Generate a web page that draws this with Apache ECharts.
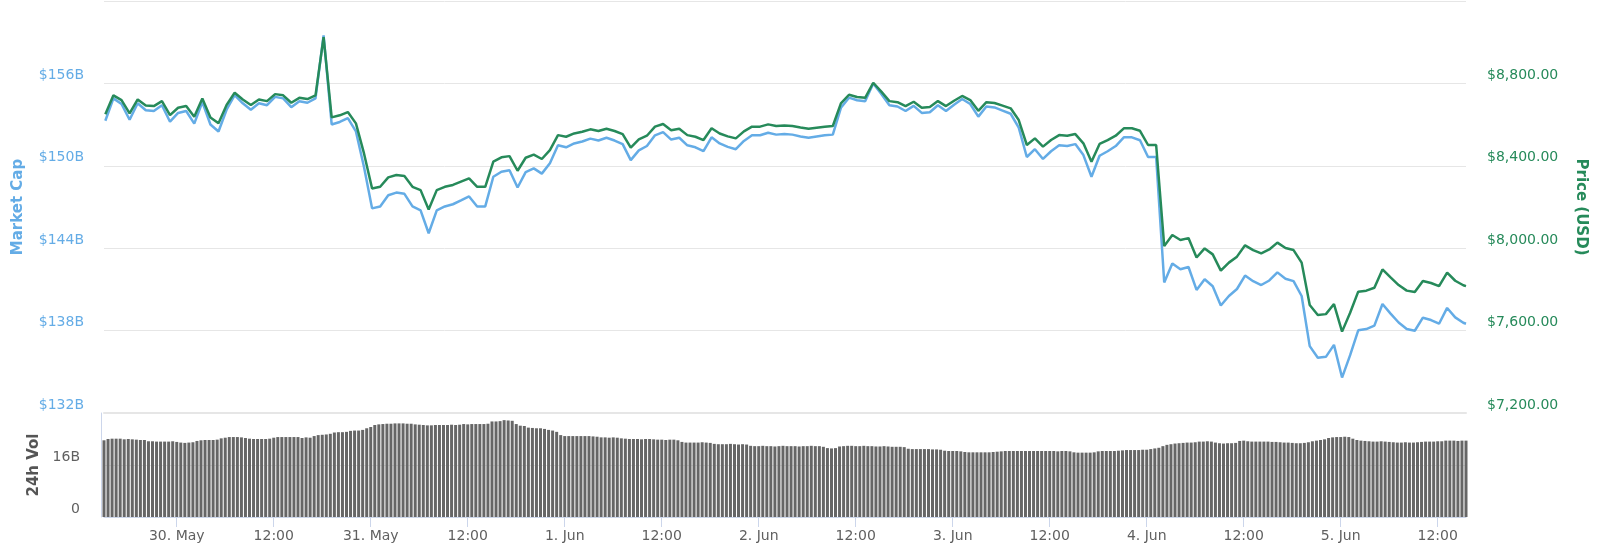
<!DOCTYPE html>
<html><head><meta charset="utf-8">
<script src="https://cdn.jsdelivr.net/npm/echarts@6/dist/echarts.min.js"></script>
<style>html,body{margin:0;padding:0;background:#fff}#c{width:1600px;height:550px}</style>
</head><body><div id="c"></div><script>
// ---- data ----
// hourly samples starting 29 May 2019 15:10 (last sample is the right edge reading)
const LINE_START = new Date(2019, 4, 29, 15, 10).getTime();
const PRICE = [
8650,8742,8719,8654,8722,8693,8690,8714,8646,8682,
8690,8638,8727,8635,8606,8695,8755,8722,8695,8722,
8714,8748,8742,8706,8730,8724,8742,9025,8635,8645,
8661,8606,8460,8290,8298,8344,8355,8350,8298,8282,
8188,8282,8298,8307,8323,8339,8298,8298,8420,8441,
8447,8376,8439,8454,8433,8476,8549,8541,8557,8565,
8577,8569,8580,8569,8554,8488,8528,8546,8590,8603,
8573,8580,8549,8541,8525,8582,8557,8543,8533,8567,
8590,8590,8601,8593,8596,8593,8586,8580,8585,8590,
8593,8703,8745,8734,8730,8803,8760,8714,8709,8690,
8711,8682,8685,8714,8690,8716,8739,8719,8667,8709,
8705,8692,8679,8622,8501,8533,8493,8525,8549,8546,
8554,8509,8420,8506,8525,8546,8582,8582,8570,8501,
8501,8010,8064,8040,8049,7955,7999,7970,7891,7930,
7959,8014,7991,7975,7994,8027,8001,7991,7930,7724,
7676,7680,7729,7595,7687,7789,7794,7808,7897,7858,
7821,7794,7787,7841,7831,7816,7881,7842,7820,7816
];
const MARKET_CAP = [
153.28,154.91,154.50,153.35,154.55,154.04,153.99,154.41,153.21,153.85,
153.99,153.07,154.64,153.01,152.50,154.08,155.14,154.55,154.08,154.55,
154.41,155.02,154.91,154.27,154.70,154.59,154.91,159.50,153.01,153.19,
153.47,152.50,149.91,146.90,147.04,147.86,148.05,147.96,147.04,146.76,
145.09,146.76,147.04,147.20,147.48,147.77,147.04,147.04,149.20,149.57,
149.68,148.42,149.54,149.81,149.43,150.19,151.49,151.35,151.63,151.77,
151.98,151.84,152.04,151.84,151.58,150.41,151.12,151.44,152.22,152.45,
151.91,152.04,151.49,151.35,151.06,152.07,151.63,151.38,151.21,151.81,
152.22,152.22,152.41,152.27,152.32,152.27,152.14,152.04,152.13,152.22,
152.27,154.22,154.96,154.77,154.70,155.99,155.23,154.41,154.32,153.99,
154.36,153.85,153.90,154.41,153.99,154.45,154.86,154.50,153.58,154.32,
154.25,154.02,153.79,152.78,150.64,151.21,150.50,151.06,151.49,151.44,
151.58,150.78,149.20,150.73,151.06,151.44,152.07,152.07,151.86,150.64,
150.64,141.50,142.89,142.47,142.63,140.96,141.74,141.23,139.83,140.52,
141.03,142.01,141.60,141.32,141.65,142.24,141.78,141.60,140.52,136.87,
136.02,136.09,136.96,134.58,136.21,138.02,138.11,138.36,139.94,139.24,
138.59,138.11,137.99,138.94,138.77,138.50,139.65,138.96,138.57,138.50
];
// 24h volume (billions), one bar per 30-minute slot from 29 May 15:00 to 5 Jun 15:30
const SLOT_START = new Date(2019, 4, 29, 15, 0).getTime();
const VOLUME = [
23.6,24.0,24.1,24.1,24.1,23.9,24.0, 23.9,23.8,23.7,23.7,
23.3,23.3,23.2,23.2,23.2,23.2,23.3, 23.1,22.9,22.8,22.9,23.0,
23.4,23.6,23.7,23.7,23.7,23.8, 24.2,24.4,24.6,24.6,24.6,24.5,24.3,
24.1,24.0,24.0,24.0,24.0,24.1, 24.4,24.6,24.6,24.6,24.6,24.6,24.6,24.3,24.5,24.4,
24.9,25.2,25.3,25.4,25.6, 26.0,26.1,26.1,26.2, 26.5,26.6,26.6,26.8, 27.3,27.7,
28.3,28.5,28.6,28.7,28.7, 28.8,28.8,28.8,28.7,28.7,
28.5,28.4,28.3,28.2,28.2,28.3,28.3,28.3,28.3,28.4,28.3,28.4,
28.6,28.5,28.6,28.6,28.6,28.6,28.7, 29.4,29.4,29.5,29.8,29.7,29.6,
28.6,28.1,28.0, 27.5,27.4,27.3,27.3,27.1, 26.8,26.6,26.2,
25.2,24.9,24.9,24.9,24.9,24.9,24.9,24.9,24.8,24.7, 24.5,24.5,24.4,24.5,24.4,
24.2,24.1,24.0,24.0,24.0,23.9,24.0,24.0, 23.9,23.8,23.8,23.7,23.8,23.8,23.6,
23.1,22.9,22.9,22.9,22.9,23.0,22.9,22.8, 22.5,22.4,22.4,22.4,22.5,22.4,22.3,22.4,22.3,
21.9,21.8,21.8,21.9,21.8,21.8,21.7,21.8,21.9,21.8,21.8,21.8,21.7,21.8,21.8,21.9,21.8,21.8,21.6,
21.2,21.1,21.2, 21.7,21.8,21.9,21.9,21.8,21.8,21.9,21.8,21.8,
21.7,21.7,21.8,21.7,21.6,21.6,21.6,21.5, 21.0,20.9,20.9,20.9,20.9,20.9,20.8,20.8,20.7,
20.4,20.3,20.3,20.3,20.2, 20.0,19.9,19.9,19.9,19.9,19.9,19.9,20.0,
20.1,20.2,20.3,20.3,20.3,20.3,20.3,20.3,20.3,20.3,20.3,20.3,20.3,20.3,20.3,20.2,20.3,20.3,20.2,
19.9,19.8,19.8,19.8,19.8,19.9, 20.2,20.3,20.3,20.3,20.3,20.4, 20.5,20.6,20.6,20.6,20.6,20.7,20.7,
20.9,21.1,21.3, 21.8,22.2,22.4, 22.6,22.7,22.8, 22.9,22.9,23.0, 23.2,23.2,23.3,23.2,
22.9,22.7,22.6,22.7,22.7,22.8, 23.4,23.5,23.3, 23.2,23.2,23.2,23.2,23.2,23.1,23.1,
23.0,22.9,22.9,22.8,22.7,22.7, 22.8,23.0, 23.3,23.5,23.7,23.9, 24.3,24.5,24.6,24.6,24.7,24.6,
24.1,23.7,23.5,23.4, 23.3,23.2,23.2,23.3,23.2,23.1, 23.0,22.9,22.9,23.0,22.9,22.9,23.0,
23.1,23.2,23.2,23.2,23.3,23.3, 23.5,23.5,23.5,23.4,23.5, 23.5
];
const MONTHS = ['Jan','Feb','Mar','Apr','May','Jun','Jul','Aug','Sep','Oct','Nov','Dec'];

// ---- derived ----
const HALF_HOUR = 30 * 60000, HOUR = 60 * 60000;
const AXIS_END = SLOT_START + (VOLUME.length - 1) * HALF_HOUR;
const pad = n => (n < 10 ? '0' : '') + n;
const SLOTS = VOLUME.map((_, i) => {
  const d = new Date(SLOT_START + i * HALF_HOUR);
  return d.getFullYear() + '-' + pad(d.getMonth() + 1) + '-' + pad(d.getDate()) + ' ' + pad(d.getHours()) + ':' + pad(d.getMinutes());
});
const lineTime = i => Math.min(LINE_START + i * HOUR, AXIS_END);
const priceData = PRICE.map((v, i) => [lineTime(i), v]);
const mcapData = MARKET_CAP.map((v, i) => [lineTime(i), v]);
const isMajor = (idx, val) => val.slice(11) === '00:00' || val.slice(11) === '12:00';
const fmtSlot = val => {
  const t = val.slice(11);
  if (t === '00:00') return (+val.slice(8, 10)) + '. ' + MONTHS[+val.slice(5, 7) - 1];
  return t;
};
const fmtPrice = v => '$' + v.toLocaleString('en-US', {minimumFractionDigits: 2, maximumFractionDigits: 2});

const FONT = 'DejaVu Sans';
const BLUE = '#64ace6', GREEN = '#268a5a', GRID = '#e6e6e6', AX = '#ccd6eb';

const chart = echarts.init(document.getElementById('c'), null, {renderer: 'canvas'});
chart.setOption({
  animation: false,
  grid: [
    {left: 104, right: 134, top: 1, height: 412},
    {left: 104, right: 134, top: 413, height: 104}
  ],
  xAxis: [
    {gridIndex: 0, type: 'time', min: SLOT_START, max: AXIS_END,
     axisLine: {show: true, onZero: false, lineStyle: {color: GRID, width: 2}},
     axisTick: {show: false}, axisLabel: {show: false}, splitLine: {show: false}},
    {gridIndex: 1, type: 'category', data: SLOTS, boundaryGap: false,
     axisLine: {onZero: false, lineStyle: {color: AX}},
     axisTick: {show: true, length: 10, interval: isMajor, lineStyle: {color: AX}},
     axisLabel: {interval: isMajor, formatter: fmtSlot, color: '#606060', fontSize: 14, fontFamily: FONT, margin: 12},
     splitLine: {show: false}}
  ],
  yAxis: [
    {gridIndex: 0, type: 'value', position: 'left', min: 132, max: 162, interval: 6,
     axisLine: {show: false}, axisTick: {show: false},
     splitLine: {lineStyle: {color: GRID}},
     axisLabel: {formatter: v => '$' + v + 'B', color: BLUE, fontSize: 14, fontFamily: FONT, margin: 20,
                 showMaxLabel: false, verticalAlign: 'bottom', lineHeight: 16},
     name: 'Market Cap', nameLocation: 'middle', nameGap: 78,
     nameTextStyle: {color: BLUE, fontSize: 15, fontWeight: 'bold', fontFamily: FONT}},
    {gridIndex: 0, type: 'value', position: 'right', min: 7200, max: 9200, interval: 400,
     axisLine: {show: false}, axisTick: {show: false}, splitLine: {show: false},
     axisLabel: {formatter: fmtPrice, color: GREEN, fontSize: 14, fontFamily: FONT, margin: 21,
                 showMaxLabel: false, verticalAlign: 'bottom', lineHeight: 16},
     name: 'Price (USD)', nameLocation: 'middle', nameGap: 107, nameRotate: -90,
     nameTextStyle: {color: GREEN, fontSize: 15, fontWeight: 'bold', fontFamily: FONT}},
    {gridIndex: 1, type: 'value', position: 'left', min: 0, max: 32, interval: 16, offset: 3,
     axisLine: {show: true, lineStyle: {color: AX}}, axisTick: {show: false},
     splitLine: {lineStyle: {color: GRID}},
     axisLabel: {formatter: v => (v === 0 ? '0' : v + 'B'), color: '#606060', fontSize: 14, fontFamily: FONT, margin: 21,
                 showMaxLabel: false, verticalAlign: 'bottom', lineHeight: 16},
     name: '24h Vol', nameLocation: 'middle', nameGap: 58,
     nameTextStyle: {color: '#555', fontSize: 15, fontWeight: 'bold', fontFamily: FONT}}
  ],
  series: [
    {name: 'Market Cap', type: 'line', xAxisIndex: 0, yAxisIndex: 0, data: mcapData,
     showSymbol: false, symbol: 'none', silent: true, z: 3,
     lineStyle: {color: BLUE, width: 2.5}},
    {name: 'Price', type: 'line', xAxisIndex: 0, yAxisIndex: 1, data: priceData,
     showSymbol: false, symbol: 'none', silent: true, z: 4,
     lineStyle: {color: GREEN, width: 2.5}},
    {name: '24h Vol', type: 'bar', xAxisIndex: 1, yAxisIndex: 2, data: VOLUME,
     barWidth: 3, silent: true, itemStyle: {color: '#666666'}}
  ]
});
</script></body></html>
